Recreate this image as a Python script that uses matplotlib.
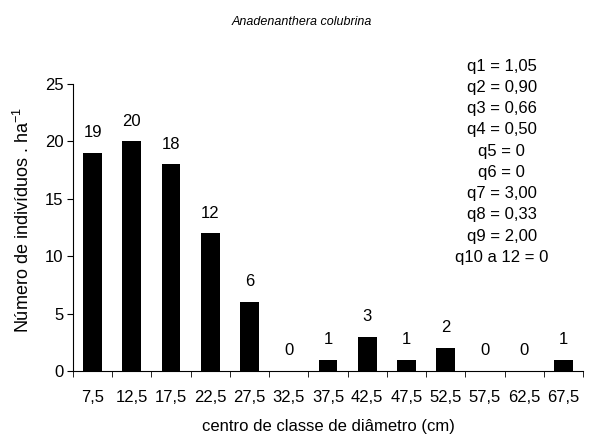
import matplotlib
matplotlib.use("Agg")
import matplotlib.pyplot as plt
import numpy as np

plt.rcParams['font.family'] = ['Liberation Sans', 'DejaVu Sans']

classes = ["7,5", "12,5", "17,5", "22,5", "27,5", "32,5", "37,5",
           "42,5", "47,5", "52,5", "57,5", "62,5", "67,5"]
counts = [19, 20, 18, 12, 6, 0, 1, 3, 1, 2, 0, 0, 1]
q_lines = ["q1 = 1,05", "q2 = 0,90", "q3 = 0,66", "q4 = 0,50", "q5 = 0",
           "q6 = 0", "q7 = 3,00", "q8 = 0,33", "q9 = 2,00", "q10 a 12 = 0"]

FS = 12

fig = plt.figure(figsize=(6.03, 4.36), dpi=100)
ax = fig.add_axes([73 / 603, 1 - 371 / 436, 510 / 603, (371 - 84) / 436])

x = np.arange(len(classes))
ax.bar(x, counts, width=0.48, color='black')
for xi, v in zip(x, counts):
    ax.text(xi, v + 1.1, str(v), ha='center', va='bottom', fontsize=FS)

ax.set_xlim(-0.5, len(classes) - 0.5)
ax.set_ylim(0, 25)
ax.set_yticks([0, 5, 10, 15, 20, 25])
ax.set_xticks(x)
ax.set_xticklabels(classes, fontsize=FS)
ax.set_xticks(np.arange(len(classes) + 1) - 0.5, minor=True)
ax.tick_params(axis='x', which='major', length=0, pad=14)
ax.tick_params(axis='x', which='minor', length=4, direction='out')
ax.tick_params(axis='y', labelsize=FS, length=4, direction='out', pad=3)
for s in ['top', 'right']:
    ax.spines[s].set_visible(False)

ax.set_xlabel("centro de classe de diâmetro (cm)", fontsize=FS, labelpad=10)
ax.set_ylabel("Número de indivíduos . ha$^{\\mathregular{-1}}$", fontsize=13)
ax.yaxis.set_label_coords(-0.078, 0.526)

ax.text(0.841, 1.088, "\n".join(q_lines), transform=ax.transAxes,
        ha='center', va='top', fontsize=FS, linespacing=1.52, multialignment='center')

fig.text(0.5, 1 - 22 / 436, "Anadenanthera colubrina", ha='center', va='center',
         fontsize=9, style='italic')

fig.savefig("out.png", dpi=100)
